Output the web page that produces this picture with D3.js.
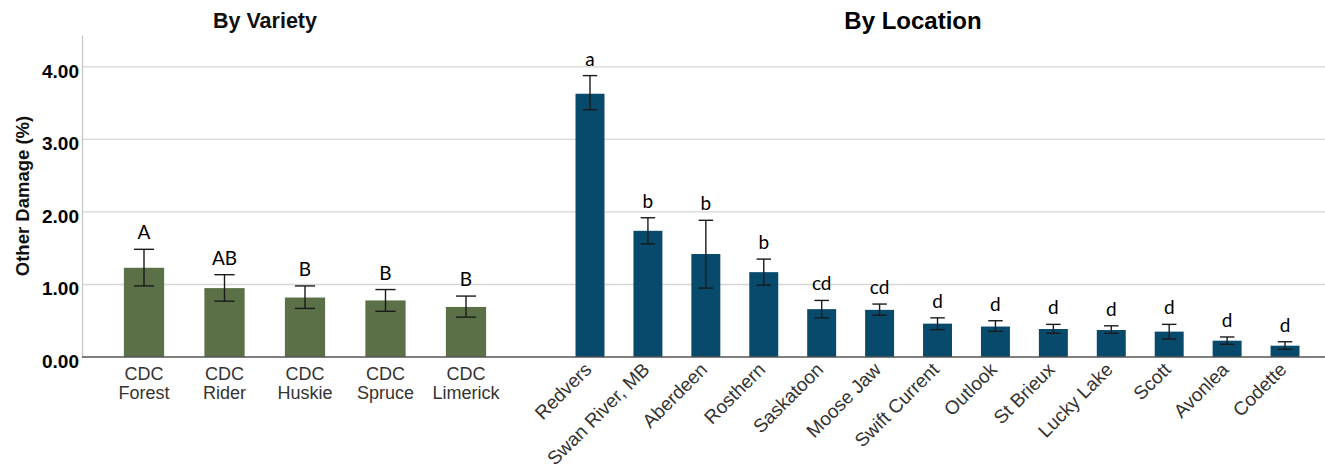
<!DOCTYPE html>
<html><head><meta charset="utf-8">
<script src="https://cdn.jsdelivr.net/npm/d3@7"></script>
<style>body{margin:0;background:#fff}svg{display:block}</style>
</head><body>
<svg id="chart" width="1325" height="467"></svg>
<script>
const varieties = ["CDC\nForest","CDC\nRider","CDC\nHuskie","CDC\nSpruce","CDC\nLimerick"];
const varietyMean = [1.23,0.95,0.82,0.78,0.69];
const varietyLow  = [0.98,0.77,0.67,0.63,0.55];
const varietyHigh = [1.485,1.135,0.98,0.93,0.84];
const varietyLetters = ["A","AB","B","B","B"];

const locations = ["Redvers","Swan River, MB","Aberdeen","Rosthern","Saskatoon","Moose Jaw","Swift Current","Outlook","St Brieux","Lucky Lake","Scott","Avonlea","Codette"];
const locationMean = [3.63,1.74,1.42,1.17,0.66,0.65,0.46,0.42,0.386,0.372,0.35,0.225,0.156];
const locationLow  = [3.41,1.56,0.95,0.99,0.54,0.575,0.377,0.354,0.327,0.327,0.248,0.175,0.106];
const locationHigh = [3.88,1.92,1.885,1.35,0.78,0.73,0.54,0.50,0.45,0.43,0.45,0.276,0.21];
const locationLetters = ["a","b","b","b","cd","cd","d","d","d","d","d","d","d"];

const yTicks = [0,1,2,3,4];

const svg = d3.select("#chart");
const y = d3.scaleLinear().domain([0,4.44]).range([357,35]);

// gridlines
svg.append("g").selectAll("line").data(yTicks.filter(d=>d>0)).join("line")
  .attr("x1",82).attr("x2",1325).attr("y1",d=>y(d)).attr("y2",d=>y(d))
  .attr("stroke","#d6d6d6").attr("stroke-width",1.3);

// y axis
const yAxis = d3.axisLeft(y).tickValues(yTicks).tickFormat(d3.format(".2f")).tickSize(0).tickPadding(3);
const ga = svg.append("g").attr("transform","translate(82,0)").call(yAxis);
ga.select(".domain").attr("stroke","#c8c8c8").attr("stroke-width",1.3);
ga.selectAll("text").attr("font-family","Liberation Sans, Arial, sans-serif")
  .attr("font-weight","bold").attr("font-size",19).attr("fill","#000").attr("dy","0.55em");

svg.append("text").attr("transform","translate(29,196) rotate(-90)")
  .attr("text-anchor","middle").attr("font-family","Liberation Sans, Arial, sans-serif")
  .attr("font-weight","bold").attr("font-size",18.5).attr("fill","#111").text("Other Damage (%)");

// titles
svg.append("text").attr("x",265).attr("y",28).attr("text-anchor","middle")
  .attr("font-family","Liberation Sans, Arial, sans-serif").attr("font-weight","bold")
  .attr("font-size",21.5).attr("fill","#111").text("By Variety");
svg.append("text").attr("x",913).attr("y",29).attr("text-anchor","middle")
  .attr("font-family","Liberation Sans, Arial, sans-serif").attr("font-weight","bold")
  .attr("font-size",24).attr("fill","#000").text("By Location");

function panel(cats, mean, lo, hi, letters, range, color, rotate) {
  const x = d3.scaleBand().domain(cats).range(range).paddingInner(0.5).paddingOuter(0.25);
  const g = svg.append("g");
  const idx = d3.range(cats.length);
  g.selectAll("rect").data(idx).join("rect")
    .attr("x",i=>x(cats[i])).attr("width",x.bandwidth())
    .attr("y",i=>y(mean[i])).attr("height",i=>y(0)-y(mean[i]))
    .attr("fill",color);
  const cw = x.bandwidth()*0.5;
  const eb = g.selectAll("g.eb").data(idx).join("g").attr("class","eb")
    .attr("stroke","#1a1a1a").attr("stroke-width",1.4);
  eb.append("line").attr("x1",i=>x(cats[i])+x.bandwidth()/2).attr("x2",i=>x(cats[i])+x.bandwidth()/2)
    .attr("y1",i=>y(lo[i])).attr("y2",i=>y(hi[i]));
  eb.append("line").attr("x1",i=>x(cats[i])+x.bandwidth()/2-cw/2).attr("x2",i=>x(cats[i])+x.bandwidth()/2+cw/2)
    .attr("y1",i=>y(hi[i])).attr("y2",i=>y(hi[i]));
  eb.append("line").attr("x1",i=>x(cats[i])+x.bandwidth()/2-cw/2).attr("x2",i=>x(cats[i])+x.bandwidth()/2+cw/2)
    .attr("y1",i=>y(lo[i])).attr("y2",i=>y(lo[i]));
  g.selectAll("text.let").data(idx).join("text").attr("class","let")
    .attr("x",i=>x(cats[i])+x.bandwidth()/2).attr("y",i=>y(hi[i])-10)
    .attr("text-anchor","middle").attr("font-family","Lato, Open Sans, sans-serif")
    .attr("font-size",19).attr("fill","#000").text(i=>letters[i]);
  // x axis
  const xa = d3.axisBottom(x).tickSize(0).tickFormat(d=>d);
  const gx = svg.append("g").attr("transform",`translate(0,${y(0)})`).call(xa);
  gx.select(".domain").remove();
  gx.selectAll("text").remove();
  const labs = gx.selectAll("g.tick").append("text")
    .attr("font-family","Liberation Sans, Arial, sans-serif").attr("fill","#333");
  if (rotate) {
    labs.attr("font-size",19).attr("text-anchor","end").attr("transform","translate(-2,9) rotate(-45)").attr("dy","0.35em").text(d=>d);
  } else {
    labs.attr("font-size",18).attr("text-anchor","middle").attr("y",0);
    labs.each(function(d){
      const parts = d.split("\n");
      d3.select(this).selectAll("tspan").data(parts).join("tspan")
        .attr("x",0).attr("y",(p,k)=>23+k*18.5).text(p=>p);
    });
  }
  return x;
}

panel(varieties, varietyMean, varietyLow, varietyHigh, varietyLetters, [103.75,506.25], "#5b7046", false);
panel(locations, locationMean, locationLow, locationHigh, locationLetters, [561.04,1314], "#084a6c", true);

// baseline
svg.append("line").attr("x1",82).attr("x2",1325).attr("y1",y(0)).attr("y2",y(0))
  .attr("stroke","#555").attr("stroke-width",1.3);
</script>
</body></html>
